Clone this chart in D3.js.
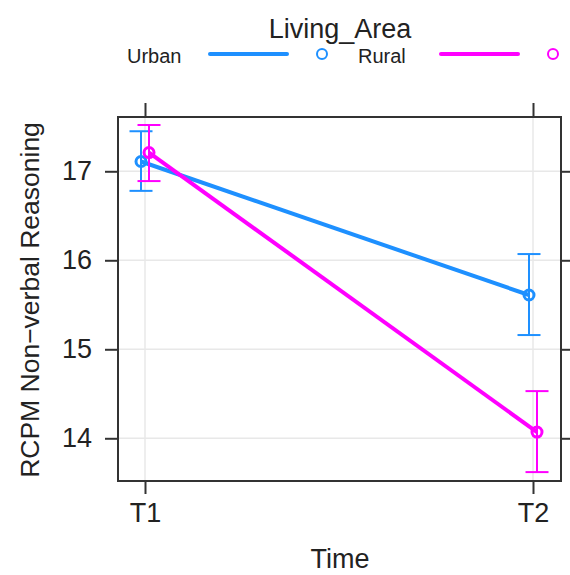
<!DOCTYPE html>
<html>
<head>
<meta charset="utf-8">
<script src="https://cdn.jsdelivr.net/npm/d3@7"></script>
<style>
    body { margin: 0; background: #fff; }
    svg { display: block; font-family: 'Liberation Sans', Arial, sans-serif; }
</style>
</head>
<body>
<script>
//
// DATA
//
const times = ['T1', 'T2']
const groups = ['Urban', 'Rural']
const urbanFit = [17.11, 15.61]
const urbanLower = [16.78, 15.16]
const urbanUpper = [17.45, 16.07]
const ruralFit = [17.21, 14.07]
const ruralLower = [16.89, 13.62]
const ruralUpper = [17.52, 14.53]
const yTicks = [14, 15, 16, 17]

//
// GLOBALS
//
const width = 570
const height = 575
const panel = { left: 118, right: 561, top: 117, bottom: 481 }
const colours = { Urban: '#1e90ff', Rural: '#ff00ff' }
// small horizontal dodge so the two groups don't sit on top of each other
const dodge = { Urban: -4, Rural: 4 }

const series = [
    { name: 'Urban', fit: urbanFit, lower: urbanLower, upper: urbanUpper },
    { name: 'Rural', fit: ruralFit, lower: ruralLower, upper: ruralUpper },
]

const svg = d3.select('body').append('svg').attr('width', width).attr('height', height)

// scales
const x = d3.scalePoint().domain(times).range([145, 533])
const y = d3.scaleLinear().domain([13.52, 17.61]).range([panel.bottom, panel.top])

//
// grid
//
const grid = svg.append('g').attr('stroke', '#e8e8e8').attr('stroke-width', 1.5)
yTicks.forEach((t) => {
    grid.append('line')
        .attr('x1', panel.left).attr('x2', panel.right)
        .attr('y1', y(t)).attr('y2', y(t))
})
times.forEach((t) => {
    grid.append('line')
        .attr('x1', x(t)).attr('x2', x(t))
        .attr('y1', panel.top).attr('y2', panel.bottom)
})

//
// axes (lattice style: ticks on all four sides, labels on left/bottom)
//
const axisStyle = (g) => {
    g.select('.domain').remove()
    g.selectAll('.tick line').attr('stroke', '#333').attr('stroke-width', 2)
    g.selectAll('.tick text')
        .attr('fill', '#222')
        .style('font-size', '27px')
}
svg.append('g')
    .attr('transform', `translate(${panel.left},0)`)
    .call(d3.axisLeft(y).tickValues(yTicks).tickFormat(d3.format('d')).tickSize(13).tickPadding(13))
    .call(axisStyle)
svg.append('g')
    .attr('transform', `translate(${panel.right},0)`)
    .call(d3.axisRight(y).tickValues(yTicks).tickSize(13).tickFormat(''))
    .call(axisStyle)
svg.append('g')
    .attr('transform', `translate(0,${panel.bottom})`)
    .call(d3.axisBottom(x).tickSize(13).tickPadding(9))
    .call(axisStyle)
svg.append('g')
    .attr('transform', `translate(0,${panel.top})`)
    .call(d3.axisTop(x).tickSize(14).tickFormat(''))
    .call(axisStyle)

// panel border
svg.append('rect')
    .attr('x', panel.left).attr('y', panel.top)
    .attr('width', panel.right - panel.left).attr('height', panel.bottom - panel.top)
    .attr('fill', 'none').attr('stroke', '#333').attr('stroke-width', 2)

//
// series: line, error bars, points
//
const line = d3.line().x((d) => d.x).y((d) => y(d.v))
series.forEach((s) => {
    const col = colours[s.name]
    const pts = times.map((t, i) => ({ x: x(t) + dodge[s.name], v: s.fit[i], lo: s.lower[i], hi: s.upper[i] }))
    const g = svg.append('g').attr('class', `series ${s.name}`)

    g.append('path').datum(pts)
        .attr('d', line)
        .attr('fill', 'none').attr('stroke', col).attr('stroke-width', 4)

    // error bars with caps
    const cap = 11.5
    pts.forEach((p) => {
        g.append('line')
            .attr('x1', p.x).attr('x2', p.x)
            .attr('y1', y(p.lo)).attr('y2', y(p.hi))
            .attr('stroke', col).attr('stroke-width', 2)
        ;[p.lo, p.hi].forEach((v) => {
            g.append('line')
                .attr('x1', p.x - cap).attr('x2', p.x + cap)
                .attr('y1', y(v)).attr('y2', y(v))
                .attr('stroke', col).attr('stroke-width', 2)
        })
    })

    g.selectAll('circle').data(pts).join('circle')
        .attr('cx', (d) => d.x).attr('cy', (d) => y(d.v)).attr('r', 5)
        .attr('fill', 'none').attr('stroke', col).attr('stroke-width', 3)
})

//
// axis titles
//
svg.append('text')
    .attr('x', 340).attr('y', 568)
    .attr('text-anchor', 'middle').attr('fill', '#222')
    .style('font-size', '27px')
    .text('Time')
svg.append('text')
    .attr('transform', 'translate(39,300) rotate(-90)')
    .attr('text-anchor', 'middle').attr('fill', '#222')
    .style('font-size', '26.5px')
    .text('RCPM Non\u2212verbal Reasoning')

//
// legend
//
svg.append('text')
    .attr('x', 340).attr('y', 38)
    .attr('text-anchor', 'middle').attr('fill', '#222')
    .style('font-size', '27px')
    .text('Living_Area')

const legendX = { Urban: 127, Rural: 358 }
groups.forEach((name) => {
    const lx = legendX[name]
    const col = colours[name]
    svg.append('text')
        .attr('x', lx).attr('y', 63)
        .attr('fill', '#222')
        .style('font-size', '20px')
        .text(name)
    svg.append('line')
        .attr('x1', lx + 83).attr('x2', lx + 160)
        .attr('y1', 54).attr('y2', 54)
        .attr('stroke', col).attr('stroke-width', 4).attr('stroke-linecap', 'round')
    svg.append('circle')
        .attr('cx', lx + 195).attr('cy', 54).attr('r', 5)
        .attr('fill', 'none').attr('stroke', col).attr('stroke-width', 2)
})
</script>
</body>
</html>
